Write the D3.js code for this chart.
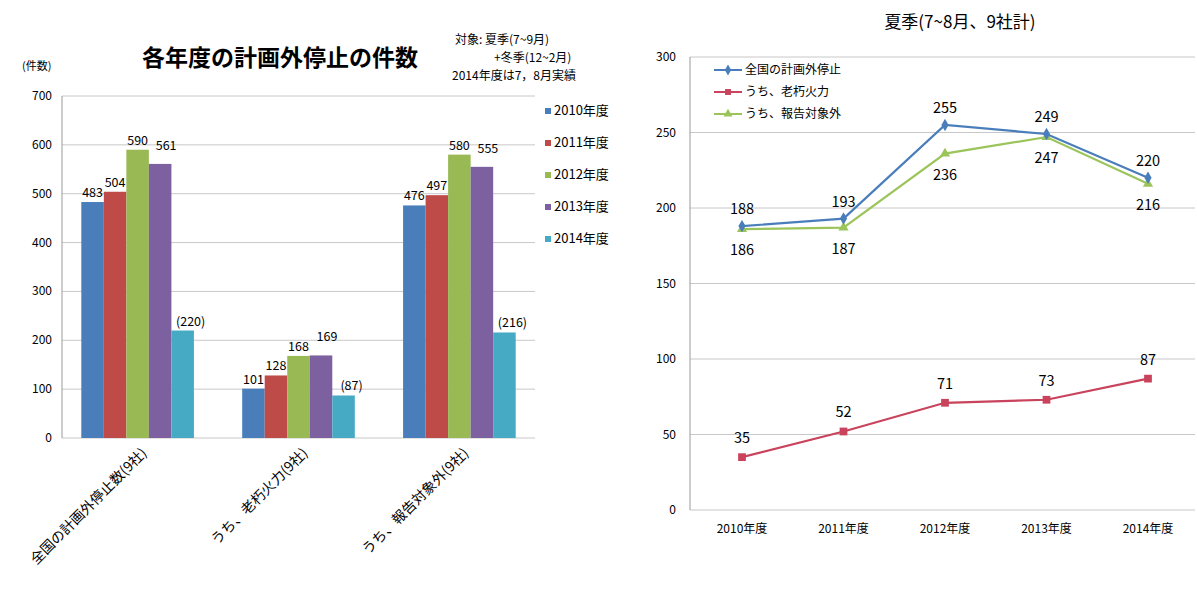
<!DOCTYPE html>
<html><head><meta charset="utf-8">
<script src="https://cdn.jsdelivr.net/npm/d3@7"></script>
<style>body{margin:0;background:#fff;font-family:"Noto Sans CJK JP",sans-serif}</style>
</head><body><svg width="1197" height="591"></svg>
<script>
const categories = ["全国の計画外停止数(9社)", "うち、老朽火力(9社)", "うち、報告対象外(9社)"];
const years = ["2010年度", "2011年度", "2012年度", "2013年度", "2014年度"];
const barValues = [
  [483, 504, 590, 561, 220],
  [101, 128, 168, 169, 87],
  [476, 497, 580, 555, 216]
];
const barLabels = [
  ["483", "504", "590", "561", "(220)"],
  ["101", "128", "168", "169", "(87)"],
  ["476", "497", "580", "555", "(216)"]
];
const barColors = ["#4a7ebb", "#be4b48", "#98b954", "#7d60a0", "#46aac5"];
const barTicks = [0, 100, 200, 300, 400, 500, 600, 700];

const lineNames = ["全国の計画外停止", "うち、老朽火力", "うち、報告対象外"];
const lineValues = [
  [188, 193, 255, 249, 220],
  [35, 52, 71, 73, 87],
  [186, 187, 236, 247, 216]
];
const lineColors = ["#4a7ebb", "#c9435c", "#9bc45a"];
const lineTicks = [0, 50, 100, 150, 200, 250, 300];

const svg = d3.select("svg");
const grid = "#c8c8c8";

// ---- left: bar chart
const y = d3.scaleLinear().domain([0, 700]).range([438, 96]);
const x0 = d3.scaleBand().domain(categories).range([62, 535]).paddingInner(0.3).paddingOuter(0.12);
const x1 = d3.scaleBand().domain(years).range([0, x0.bandwidth()]);
const left = svg.append("g");
left.selectAll(".g").data(barTicks).join("line")
  .attr("x1", 62).attr("x2", 535).attr("y1", d => y(d)).attr("y2", d => y(d))
  .attr("stroke", grid);
left.append("line").attr("x1", 62).attr("x2", 62).attr("y1", 96).attr("y2", 438).attr("stroke", "#999");
left.selectAll(".yt").data(barTicks).join("text")
  .attr("x", 52).attr("y", d => y(d) + 4).attr("text-anchor", "end")
  .attr("font-size", 12).text(d => d);
left.append("text").attr("x", 22).attr("y", 70).attr("font-size", 11).text("(件数)");
left.append("text").attr("x", 280).attr("y", 66).attr("text-anchor", "middle")
  .attr("font-size", 23).attr("font-weight", "bold").text("各年度の計画外停止の件数");
[["対象: 夏季(7~9月)", 455, 44], ["+冬季(12~2月)", 494, 62], ["2014年度は7，8月実績", 452, 80]]
  .forEach(([t, xx, yy]) => left.append("text").attr("x", xx).attr("y", yy).attr("font-size", 12).text(t));
categories.forEach((c, i) => {
  const g = left.append("g").attr("transform", `translate(${x0(c)},0)`);
  g.selectAll("rect").data(barValues[i]).join("rect")
    .attr("x", (d, j) => x1(years[j])).attr("width", x1.bandwidth())
    .attr("y", d => y(d)).attr("height", d => 438 - y(d))
    .attr("fill", (d, j) => barColors[j]);
  g.selectAll("text").data(barValues[i]).join("text")
    .attr("x", (d, j) => x1(years[j]) + x1.bandwidth() / 2 + (j == 3 ? 6 : j == 4 ? 8 : 0))
    .attr("y", (d, j) => y(d) - (j == 3 ? 14 : 5))
    .attr("text-anchor", "middle").attr("font-size", 12.5)
    .text((d, j) => barLabels[i][j]);
  left.append("text")
    .attr("transform", `translate(${x0(c) + x0.bandwidth() / 2 + 10},454) rotate(-45)`)
    .attr("text-anchor", "end").attr("font-size", 14).text(c);
});
const leg = left.append("g").attr("transform", "translate(545,112)");
years.forEach((yr, j) => {
  leg.append("rect").attr("x", 0).attr("y", j * 32 - 4).attr("width", 6).attr("height", 6).attr("fill", barColors[j]);
  leg.append("text").attr("x", 9).attr("y", j * 32 + 3).attr("font-size", 13).text(yr);
});

// ---- right: line chart
const yr = d3.scaleLinear().domain([0, 300]).range([510, 57]);
const xr = d3.scalePoint().domain(years).range([742, 1148]);
const right = svg.append("g");
right.selectAll(".g").data(lineTicks).join("line")
  .attr("x1", 690).attr("x2", 1195).attr("y1", d => yr(d)).attr("y2", d => yr(d))
  .attr("stroke", grid);
right.append("line").attr("x1", 690).attr("x2", 690).attr("y1", 57).attr("y2", 510).attr("stroke", "#999");
right.selectAll(".yt").data(lineTicks).join("text")
  .attr("x", 676).attr("y", d => yr(d) + 4).attr("text-anchor", "end").attr("font-size", 12).text(d => d);
right.selectAll(".xt").data(years).join("text")
  .attr("x", d => xr(d)).attr("y", 533).attr("text-anchor", "middle").attr("font-size", 12).text(d => d);
right.append("text").attr("x", 960).attr("y", 28).attr("text-anchor", "middle")
  .attr("font-size", 17).text("夏季(7~8月、9社計)");
const line = d3.line().x((d, i) => xr(years[i])).y(d => yr(d));
const labelOff = [-12, -14, 26];
const sym = k => k == 0 ? d3.symbolDiamond : k == 1 ? d3.symbolSquare : d3.symbolTriangle;
[1, 2, 0].forEach(k => {
  right.append("path").attr("d", line(lineValues[k])).attr("fill", "none")
    .attr("stroke", lineColors[k]).attr("stroke-width", 2.2);
  right.selectAll(".m" + k).data(lineValues[k]).join("path")
    .attr("transform", (d, i) => `translate(${xr(years[i])},${yr(d)})`)
    .attr("d", d3.symbol().type(sym(k)).size(k == 1 ? 60 : 45))
    .attr("fill", lineColors[k]);
  right.selectAll(".l" + k).data(lineValues[k]).join("text")
    .attr("x", (d, i) => xr(years[i])).attr("y", d => yr(d) + labelOff[k])
    .attr("text-anchor", "middle").attr("font-size", 14.5).text(d => d);
});
const lg = right.append("g").attr("transform", "translate(714,70)");
lineNames.forEach((n, k) => {
  lg.append("line").attr("x1", 0).attr("x2", 28).attr("y1", k * 22).attr("y2", k * 22)
    .attr("stroke", lineColors[k]).attr("stroke-width", 2);
  lg.append("path").attr("transform", `translate(14,${k * 22})`)
    .attr("d", d3.symbol().type(sym(k)).size(35))
    .attr("fill", lineColors[k]);
  lg.append("text").attr("x", 31).attr("y", k * 22 + 4).attr("font-size", 12).text(n);
});
</script></body></html>
